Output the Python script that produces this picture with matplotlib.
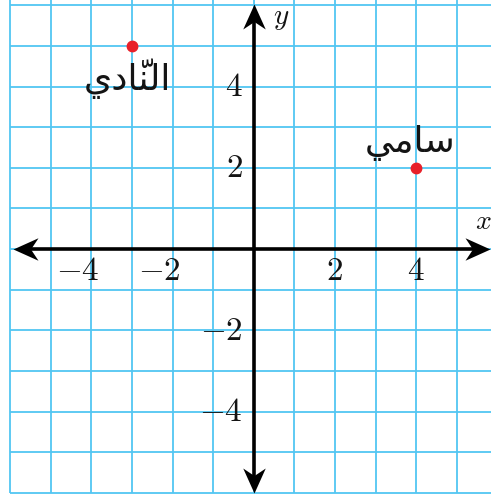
import matplotlib
matplotlib.use("Agg")
import matplotlib.pyplot as plt
from matplotlib.path import Path

plt.rcParams['mathtext.fontset'] = 'cm'

# points on the grid
names = ['النّادي', 'سامي']
px = [-3, 4]
py = [5, 2]
label_dx = [-0.12, -0.15]
label_dy = [-0.82, 0.62]

x_ticks = [-4, -2, 2, 4]
y_ticks = [4, 2, -2, -4]
grid_x = list(range(-6, 6))
grid_y = list(range(-6, 7))

grid_col = '#52c6f2'
ink = '#141414'

# minimal arabic shaping (presentation forms, visual order) since matplotlib
# lays glyphs out left to right without joining
forms = {
    'ا': ('\uFE8D', '\uFE8E', None, None),
    'د': ('\uFEA9', '\uFEAA', None, None),
    'ل': ('\uFEDD', '\uFEDE', '\uFEDF', '\uFEE0'),
    'ن': ('\uFEE5', '\uFEE6', '\uFEE7', '\uFEE8'),
    'ي': ('\uFEF1', '\uFEF2', '\uFEF3', '\uFEF4'),
    'س': ('\uFEB1', '\uFEB2', '\uFEB3', '\uFEB4'),
    'م': ('\uFEE1', '\uFEE2', '\uFEE3', '\uFEE4'),
}


def shape(word):
    groups = []
    for ch in word:
        if ch in forms:
            groups.append([ch])
        else:
            groups[-1].append(ch)
    out = []
    for i, g in enumerate(groups):
        f = forms[g[0]]
        prev_joins = i > 0 and forms[groups[i - 1][0]][2] is not None
        next_joins = f[2] is not None and i < len(groups) - 1
        if prev_joins and next_joins:
            c = f[3]
        elif prev_joins:
            c = f[1]
        elif next_joins:
            c = f[2]
        else:
            c = f[0]
        out.append(''.join(g[1:]) + c)
    return ''.join(reversed(out))


fig = plt.figure(figsize=(4.91, 4.96), dpi=100)
ax = fig.add_axes([0, 0, 1, 1])
xmin, xmax = -6.25, 5.845
ymin, ymax = -6.08, 6.13
ax.set_xlim(xmin, xmax)
ax.set_ylim(ymin, ymax)
ax.axis('off')

ax.vlines(grid_x, -6, ymax, color=grid_col, lw=1.3, zorder=1)
ax.hlines(grid_y, -6, xmax, color=grid_col, lw=1.3, zorder=1)

# axes with stealth arrowheads
head = [(0, 0), (-1, 0.45), (-0.7, 0), (-1, -0.45), (0, 0)]
codes = [Path.MOVETO, Path.LINETO, Path.LINETO, Path.LINETO, Path.CLOSEPOLY]
right = Path(head, codes)
left = Path([(-a, b) for a, b in head], codes)
up = Path([(b, a) for a, b in head], codes)
down = Path([(b, -a) for a, b in head], codes)

xl, xr = -5.93, 5.82
yb, yt = -6.01, 6.02
ax.plot([xl + 0.4, xr - 0.4], [0, 0], color='black', lw=2.6, zorder=3,
        solid_capstyle='butt')
ax.plot([0, 0], [yb + 0.4, yt - 0.4], color='black', lw=2.6, zorder=3,
        solid_capstyle='butt')
for mx, my, m in [(xl, 0, left), (xr, 0, right), (0, yb, down), (0, yt, up)]:
    ax.plot(mx, my, marker=m, markersize=36, color='black', mew=0, zorder=4)

for v in x_ticks:
    ax.text(v + 0.2, -0.54, r'$%d$' % v, ha='right', va='center',
            fontsize=24, color=ink, zorder=5)
for v in y_ticks:
    ax.text(-0.27, v, r'$%d$' % v, ha='right', va='center',
            fontsize=24, color=ink, zorder=5)

ax.text(5.44, 0.68, r'$x$', ha='left', va='center', fontsize=20, color=ink)
ax.text(0.48, 5.68, r'$y$', ha='left', va='center', fontsize=21, color=ink)

ax.plot(px, py, 'o', color='#e8202a', markersize=7.5, zorder=6)
for n, x, y, dx, dy in zip(names, px, py, label_dx, label_dy):
    ax.text(x + dx, y + dy, shape(n), ha='center', va='center',
            fontsize=26, family=['DejaVu Sans'], color=ink, zorder=6)

fig.savefig('out.png', dpi=100)
